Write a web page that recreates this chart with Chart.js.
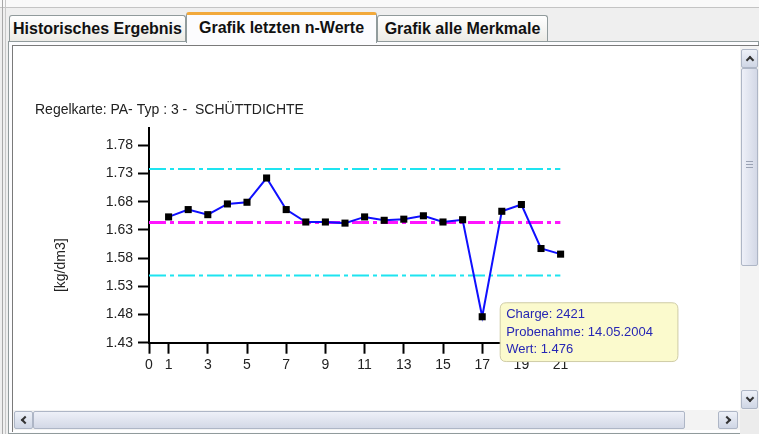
<!DOCTYPE html>
<html><head><meta charset="utf-8">
<script src="https://cdn.jsdelivr.net/npm/chart.js@4"></script>
<style>
html,body{margin:0;padding:0;}
body{width:759px;height:434px;position:relative;overflow:hidden;background:#efefef;font-family:"Liberation Sans",Arial,sans-serif;}
.a{position:absolute;box-sizing:border-box;}
.tab{position:absolute;box-sizing:border-box;border:1px solid #919b9c;border-bottom:none;border-radius:3px 3px 0 0;background:linear-gradient(#ffffff,#ecebe6);font-weight:bold;font-size:16px;color:#111;text-align:center;white-space:nowrap;}
.btn{position:absolute;box-sizing:border-box;border:1px solid #aeb6c6;border-radius:2px;background:linear-gradient(#eef1f8,#cfd6e5);}
.chev{position:absolute;width:6px;height:6px;box-sizing:border-box;border-left:2px solid #333;border-top:2px solid #333;}
</style></head><body>
<div class="a" style="left:0;top:0;width:759px;height:7px;background:#f9f9f9;"></div>
<div class="a" style="left:0;top:7px;width:759px;height:1px;background:#c4c4c4;"></div>
<div class="a" style="left:2px;top:0;width:1px;height:434px;background:#a8a8a8;"></div>
<div class="a" style="left:5px;top:0;width:1px;height:434px;background:#c8c8c8;"></div>

<div class="a" style="left:8px;top:41px;width:751px;height:393px;border:1px solid #919b9c;background:#fcfcfe;"></div>

<div class="tab" style="left:9px;top:15px;width:177px;height:26px;line-height:25px;">Historisches Ergebnis</div>
<div class="tab" style="left:377px;top:15px;width:171px;height:26px;line-height:25px;">Grafik alle Merkmale</div>
<div class="tab" style="left:186px;top:12px;width:191px;height:31px;line-height:25px;background:#fcfcfe;border-top:3px solid #f2a93b;">Grafik letzten n-Werte</div>

<div class="a" style="left:12px;top:45px;width:747px;height:387px;border-left:1px solid #7a7a7a;border-top:1px solid #7a7a7a;background:#ffffff;"></div>

<div class="a" style="left:13px;top:46px;width:727px;height:363px;">
  <canvas id="c" width="727" height="363"></canvas>
</div>

<!-- vertical scrollbar -->
<div class="a" style="left:740px;top:46px;width:19px;height:364px;background:#f3f3f3;"></div>
<div class="btn" style="left:741px;top:49px;width:17px;height:19px;"><div class="chev" style="left:5px;top:7px;transform:rotate(45deg);"></div></div>
<div class="btn" style="left:741px;top:68px;width:17px;height:198px;background:linear-gradient(90deg,#eef0f8,#d3d8e6);">
  <div class="a" style="left:4px;top:92px;width:7px;height:1px;background:#9aa2b4;"></div>
  <div class="a" style="left:4px;top:95px;width:7px;height:1px;background:#9aa2b4;"></div>
  <div class="a" style="left:4px;top:98px;width:7px;height:1px;background:#9aa2b4;"></div>
</div>
<div class="btn" style="left:741px;top:390px;width:17px;height:19px;"><div class="chev" style="left:5px;top:4px;transform:rotate(225deg);"></div></div>

<!-- horizontal scrollbar -->
<div class="a" style="left:13px;top:410px;width:727px;height:20px;background:#f3f3f3;"></div>
<div class="btn" style="left:14px;top:411px;width:19px;height:18px;"><div class="chev" style="left:7px;top:5px;transform:rotate(-45deg);"></div></div>
<div class="btn" style="left:33px;top:411px;width:652px;height:18px;background:linear-gradient(#eef0f8,#d3d8e6);"></div>
<div class="btn" style="left:718px;top:411px;width:20px;height:18px;"><div class="chev" style="left:5px;top:5px;transform:rotate(135deg);"></div></div>
<div class="a" style="left:740px;top:410px;width:19px;height:24px;background:#ececec;"></div>

<script>
// ---- data ----
const chartTitle = 'Regelkarte: PA- Typ : 3 -  SCHÜTTDICHTE';
const yTitle = '[kg/dm3]';
const samples = [1,2,3,4,5,6,7,8,9,10,11,12,13,14,15,16,17,18,19,20,21];
const values  = [1.653,1.666,1.657,1.676,1.679,1.722,1.666,1.644,1.644,1.642,1.653,1.647,1.649,1.655,1.644,1.648,1.476,1.663,1.675,1.597,1.587];
const upperLimit = 1.738;
const centerLine = 1.643;
const lowerLimit = 1.549;
const limitSpan = [0, 21];
const xTicks = [0,1,3,5,7,9,11,13,15,17,19,21];
const yTicks = [1.43,1.48,1.53,1.58,1.63,1.68,1.73,1.78];
const yRange = [1.43, 1.811];
const tipIndex = 16;
const tipCharge = '2421';
const tipDate = '14.05.2004';

const FONT = '"Liberation Sans", Arial, sans-serif';

Chart.Tooltip.positioners.besidePoint = function(items) {
  if (!items.length) return false;
  const el = items[0].element;
  return {x: el.x + 18 + 6, y: el.y - 14};
};

const yLabelPlugin = {
  id: 'yLabel',
  afterDraw(chart) {
    const {ctx, chartArea} = chart;
    ctx.save();
    ctx.translate(48, (chartArea.top + chartArea.bottom) / 2 + 30);
    ctx.rotate(-Math.PI / 2);
    ctx.font = '14px ' + FONT;
    ctx.fillStyle = '#222';
    ctx.textAlign = 'center';
    ctx.textBaseline = 'middle';
    ctx.fillText(yTitle, 0, 0);
    ctx.restore();
  }
};

const limitLine = (v) => limitSpan.map(x => ({x, y: v}));

const chart = new Chart(document.getElementById('c'), {
  type: 'line',
  data: {
    datasets: [
      {
        data: samples.map((x, i) => ({x, y: values[i]})),
        borderColor: '#1010ff', borderWidth: 2, tension: 0,
        pointStyle: 'rect', pointRadius: 5, pointBackgroundColor: '#000', pointBorderColor: '#000', pointBorderWidth: 0,
        clip: false
      },
      { data: limitLine(upperLimit), borderColor: '#1ee4f0', borderWidth: 2, borderDash: [17,4,4,4], pointRadius: 0 },
      { data: limitLine(centerLine), borderColor: '#ff14ff', borderWidth: 3, borderDash: [17,4,4,4], pointRadius: 0 },
      { data: limitLine(lowerLimit), borderColor: '#1ee4f0', borderWidth: 2, borderDash: [17,4,4,4], pointRadius: 0 }
    ]
  },
  options: {
    responsive: false,
    animation: false,
    events: [],
    layout: { padding: { left: 22, top: 49, right: 179.4, bottom: 26.3 } },
    plugins: {
      legend: { display: false },
      title: {
        display: true, text: chartTitle, align: 'start', color: '#222',
        font: { family: FONT, size: 14, weight: 'normal' }, padding: { top: 7, bottom: 9 }
      },
      tooltip: {
        enabled: true,
        position: 'besidePoint',
        xAlign: 'left', yAlign: 'top',
        caretSize: 0, caretPadding: 0,
        backgroundColor: '#fbfacd', borderColor: '#cfcca6', borderWidth: 1, cornerRadius: 6,
        displayColors: false,
        bodyColor: '#2626b4', bodyFont: { family: FONT, size: 13 }, bodySpacing: 2,
        padding: { top: 4, bottom: 4, left: 6, right: 25 },
        filter: (item) => item.datasetIndex === 0,
        callbacks: {
          title: () => '',
          label: (ctx) => ['Charge: ' + tipCharge, 'Probenahme: ' + tipDate, 'Wert: ' + values[ctx.dataIndex].toFixed(3)]
        }
      }
    },
    scales: {
      x: {
        type: 'linear', min: 0, max: 21,
        afterBuildTicks: (s) => { s.ticks = xTicks.map(v => ({value: v})); },
        afterFit: (s) => { s.height = 40; },
        ticks: { autoSkip: false, maxRotation: 0, padding: 3, color: '#222', font: { family: FONT, size: 14 } },
        grid: { drawOnChartArea: false, drawTicks: true, tickLength: 11, tickWidth: 2, tickColor: '#000' },
        border: { display: true, color: '#000', width: 2 }
      },
      y: {
        type: 'linear', min: yRange[0], max: yRange[1],
        afterBuildTicks: (s) => { s.ticks = yTicks.map(v => ({value: v})); },
        afterFit: (s) => { s.width = 114; },
        ticks: { autoSkip: false, padding: 5, color: '#222', font: { family: FONT, size: 14 }, callback: (v) => v.toFixed(2) },
        grid: { drawOnChartArea: false, drawTicks: true, tickLength: 11, tickWidth: 2, tickColor: '#000' },
        border: { display: true, color: '#000', width: 2 }
      }
    }
  },
  plugins: [yLabelPlugin]
});

chart.tooltip.setActiveElements([{datasetIndex: 0, index: tipIndex}], {x: 0, y: 0});
chart.update();
</script>
</body></html>
